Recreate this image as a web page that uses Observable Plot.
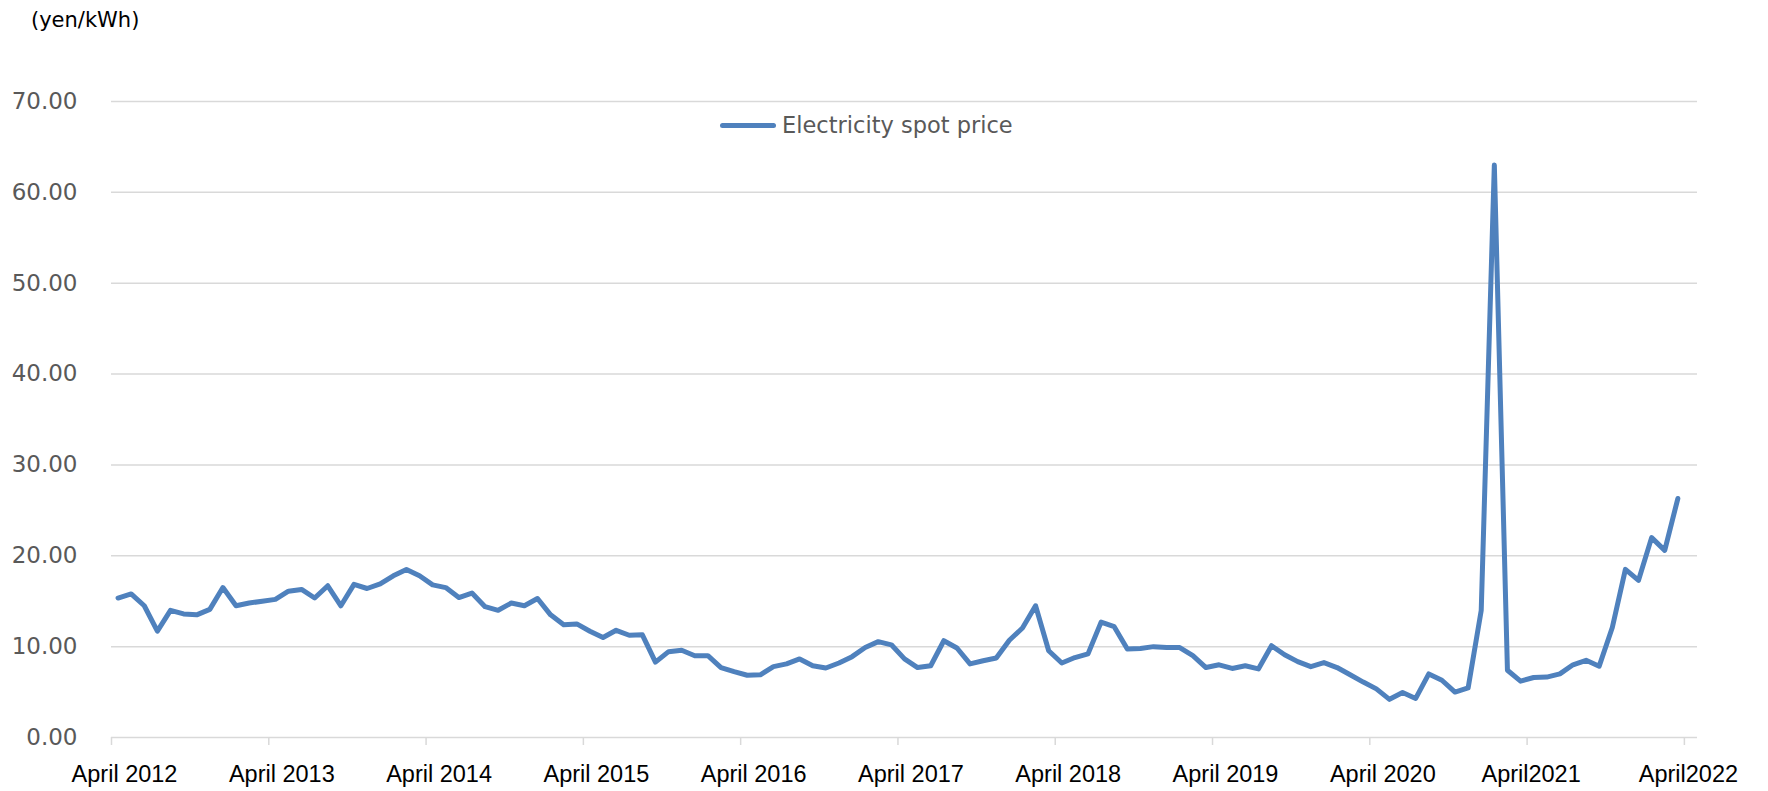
<!DOCTYPE html>
<html>
<head>
<meta charset="utf-8">
<script src="https://cdn.jsdelivr.net/npm/d3@7"></script>
<script src="https://cdn.jsdelivr.net/npm/@observablehq/plot@0.6"></script>
<style>
  html, body { margin: 0; padding: 0; background: #fff; }
  #wrap { position: relative; width: 1768px; height: 791px; overflow: hidden; }
  #unit { height: 40px; box-sizing: border-box; padding-left: 31px; padding-top: 8px;
          font-family: "DejaVu Sans", "Noto Sans CJK JP", sans-serif; font-size: 21px; color: #000; line-height: 25px; }
  #legend { position: absolute; left: 720px; top: 112px; display: flex; align-items: center;
            font-family: "DejaVu Sans", "Noto Sans CJK JP", sans-serif; font-size: 22.5px; color: #595959; }
  #legend .sw { width: 56px; height: 5px; border-radius: 3px; background: #4f81bd; margin-right: 6px; }
</style>
</head>
<body>
<div id="wrap">
  <div id="unit">(yen/kWh)</div>
  <div id="chart"></div>
  <div id="legend"><span class="sw"></span><span>Electricity spot price</span></div>
</div>
<script>
// Monthly electricity spot price (yen/kWh), April 2012 – March 2022
const seriesName = "Electricity spot price";
const prices = [
  15.35, 15.8, 14.5, 11.7, 14.0, 13.6, 13.5, 14.1, 16.5, 14.5, 14.8, 15.0,   // FY2012
  15.2, 16.1, 16.3, 15.35, 16.7, 14.5, 16.85, 16.4, 16.9, 17.8, 18.5, 17.8,  // FY2013
  16.8, 16.5, 15.4, 15.9, 14.4, 14.0, 14.8, 14.5, 15.3, 13.5, 12.4, 12.5,   // FY2014
  11.7, 11.0, 11.8, 11.25, 11.3, 8.3, 9.45, 9.6, 9.0, 9.0, 7.7, 7.25,       // FY2015
  6.85, 6.9, 7.8, 8.1, 8.65, 7.9, 7.65, 8.2, 8.9, 9.9, 10.55, 10.2,         // FY2016
  8.65, 7.7, 7.9, 10.65, 9.85, 8.1, 8.45, 8.75, 10.7, 12.05, 14.5, 9.55,    // FY2017
  8.2, 8.8, 9.2, 12.7, 12.2, 9.75, 9.8, 10.0, 9.9, 9.9, 9.0, 7.7,           // FY2018
  8.0, 7.6, 7.9, 7.55, 10.1, 9.1, 8.35, 7.8, 8.25, 7.7, 6.9, 6.1,           // FY2019
  5.35, 4.2, 4.95, 4.3, 7.0, 6.3, 5.0, 5.45, 14.0, 63.0, 7.4, 6.2,          // FY2020
  6.6, 6.65, 7.0, 8.0, 8.5, 7.85, 12.1, 18.5, 17.3, 22.0, 20.6, 26.3        // FY2021
];
const monthCount = 121; // April 2012 … April 2022 categories
const yTicks = [0, 10, 20, 30, 40, 50, 60, 70];
const xTickIndex = [0, 12, 24, 36, 48, 60, 72, 84, 96, 108, 120];
const xTickLabels = ["April 2012", "April 2013", "April 2014", "April 2015", "April 2016",
  "April 2017", "April 2018", "April 2019", "April 2020", "April2021", "April2022"];

const data = prices.map((v, i) => ({month: i + 0.5, price: v, series: seriesName}));
const labelOf = d => xTickLabels[xTickIndex.indexOf(d)];
const xFont = {fontSize: 23.5, fontFamily: "'Liberation Sans', Arial, sans-serif", fill: "#000"};

const chart = Plot.plot({
  width: 1768,
  height: 751,
  marginTop: 61,
  marginBottom: 54,
  marginLeft: 111,
  marginRight: 71,
  style: {background: "#fff", overflow: "visible"},
  x: {type: "linear", domain: [0, monthCount]},
  y: {domain: [0, 70]},
  marks: [
    Plot.gridY(yTicks.filter(d => d > 0), {stroke: "#d9d9d9", strokeOpacity: 1, strokeWidth: 1.5}),
    Plot.ruleY([0], {stroke: "#d9d9d9", strokeWidth: 1.5}),
    Plot.axisY(yTicks, {
      tickSize: 0, tickPadding: 34, tickFormat: d => d.toFixed(2), label: null,
      fontSize: 23, fontFamily: "DejaVu Sans, 'Noto Sans CJK JP', sans-serif", fill: "#595959"
    }),
    // tick marks (category boundaries)
    Plot.axisX(xTickIndex, {
      tickSize: 8, stroke: "#d9d9d9", strokeWidth: 1.5, strokeOpacity: 1, label: null,
      tickFormat: () => ""
    }),
    // tick labels
    Plot.axisX(xTickIndex.slice(0, 9), {
      tickSize: 0, tickPadding: 28, label: null, tickFormat: labelOf, dx: 13, ...xFont
    }),
    Plot.axisX(xTickIndex.slice(9), {
      tickSize: 0, tickPadding: 28, label: null, tickFormat: labelOf, dx: 4, ...xFont
    }),
    Plot.line(data, {x: "month", y: "price", stroke: "#4f81bd", strokeWidth: 5,
      strokeLinejoin: "round", strokeLinecap: "round"})
  ]
});
document.getElementById("chart").appendChild(chart);
</script>
</body>
</html>
